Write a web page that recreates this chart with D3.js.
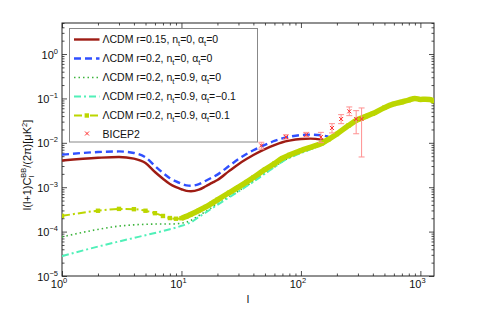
<!DOCTYPE html>
<html>
<head>
<meta charset="utf-8">
<script src="https://cdnjs.cloudflare.com/ajax/libs/d3/7.8.5/d3.min.js"></script>
<style>
	body { margin: 0; background: #fff; }
	text { font-family: "Liberation Sans", Arial, sans-serif; fill: #111; }
</style>
</head>
<body>
<div id="chart"></div>
<script>
	// multipole grid shared by all model curves
	var ells = [1,2,3,4,5,6,7,8,9,10,11,12,14,16,18,20,25,30,35,40,50,60,70,80,100,120,150,170,200,250,300,350,400,500,600,700,800,900,1000,1100,1200,1300];

	// r=0.15, nt=0 (stops near l=170)
	var redVals = [4.0e-3,4.6e-3,4.8e-3,4.4e-3,3.5e-3,2.2e-3,1.55e-3,1.18e-3,1.0e-3,9.0e-4,8.3e-4,8.1e-4,8.8e-4,1.05e-3,1.25e-3,1.45e-3,2.3e-3,3.3e-3,4.3e-3,5.3e-3,7.2e-3,8.9e-3,1.03e-2,1.12e-2,1.22e-2,1.24e-2,1.18e-2,1.12e-2,
		null,null,null,null,null,null,null,null,null,null,null,null,null,null];
	// r=0.2, nt=0
	var blueVals = [5.4e-3,6.2e-3,6.4e-3,5.9e-3,4.7e-3,3.0e-3,2.1e-3,1.6e-3,1.35e-3,1.2e-3,1.1e-3,1.08e-3,1.17e-3,1.4e-3,1.65e-3,1.92e-3,3.0e-3,4.3e-3,5.6e-3,6.8e-3,9.0e-3,1.1e-2,1.26e-2,1.37e-2,1.5e-2,1.53e-2,1.47e-2,1.38e-2,
		null,null,null,null,null,null,null,null,null,null,null,null,null,null];
	// r=0.2, nt=0.9, at=0
	var greenVals = [7.6e-5,1.12e-4,1.33e-4,1.42e-4,1.46e-4,1.48e-4,1.48e-4,1.48e-4,1.5e-4,1.55e-4,1.63e-4,1.78e-4,2.3e-4,2.85e-4,3.5e-4,4.2e-4,6.1e-4,8.2e-4,1.07e-3,1.35e-3,2.05e-3,2.85e-3,3.8e-3,4.6e-3,5.9e-3,7.1e-3,9.0e-3,1.1e-2,1.5e-2,2.35e-2,3.2e-2,3.8e-2,4.4e-2,6.1e-2,7.4e-2,8.2e-2,9.1e-2,9.9e-2,9.4e-2,9.5e-2,9.4e-2,8.6e-2];
	// r=0.2, nt=0.9, at=-0.1
	var cyanVals = [2.8e-5,4.6e-5,6.0e-5,7.2e-5,8.3e-5,9.3e-5,1.03e-4,1.13e-4,1.23e-4,1.35e-4,1.48e-4,1.62e-4,2.15e-4,2.7e-4,3.35e-4,4.0e-4,5.9e-4,8.0e-4,1.05e-3,1.33e-3,2.02e-3,2.82e-3,3.78e-3,4.58e-3,5.88e-3,7.1e-3,9.0e-3,1.1e-2,1.5e-2,2.35e-2,3.2e-2,3.8e-2,4.4e-2,6.1e-2,7.4e-2,8.2e-2,9.1e-2,9.9e-2,9.4e-2,9.5e-2,9.4e-2,8.6e-2];
	// r=0.2, nt=0.9, at=0.1
	var yellowVals = [2.26e-4,2.95e-4,3.25e-4,3.2e-4,2.95e-4,2.6e-4,2.25e-4,2.02e-4,1.95e-4,2.0e-4,2.2e-4,2.45e-4,3.0e-4,3.6e-4,4.35e-4,5.2e-4,7.5e-4,1.0e-3,1.3e-3,1.65e-3,2.5e-3,3.4e-3,4.5e-3,5.3e-3,6.7e-3,7.9e-3,9.8e-3,1.2e-2,1.58e-2,2.45e-2,3.35e-2,3.95e-2,4.55e-2,6.2e-2,7.5e-2,8.3e-2,9.2e-2,1.0e-1,9.5e-2,9.6e-2,9.5e-2,8.7e-2];

	// BICEP2 band powers
	var bicepL  = [46.6, 74.9, 111, 147, 182, 217, 254, 290, 322];
	var bicepV  = [8.7e-3, 1.35e-2, 1.52e-2, 1.35e-2, 2.16e-2, 3.44e-2, 5.12e-2, 3.44e-2, 3.44e-2];
	var bicepLo = [7.2e-3, 1.22e-2, 1.37e-2, 1.01e-2, 1.67e-2, 2.7e-2, 4.09e-2, 1.6e-2, 4.8e-3];
	var bicepHi = [1.03e-2, 1.52e-2, 1.72e-2, 1.72e-2, 2.7e-2, 4.31e-2, 6.43e-2, 5.3e-2, 6.1e-2];

	var xMajor = [1, 10, 100, 1000];
	var xExp = ["0", "1", "2", "3"];
	var yMajor = [1e-5, 1e-4, 1e-3, 1e-2, 1e-1, 1];
	var yExp = ["\u22125", "\u22124", "\u22123", "\u22122", "\u22121", "0"];

	var legendLabels = [
		{main: "\u039BCDM r=0.15, n", a: "=0, \u03B1", b: "=0"},
		{main: "\u039BCDM r=0.2, n", a: "=0, \u03B1", b: "=0"},
		{main: "\u039BCDM r=0.2, n", a: "=0.9, \u03B1", b: "=0"},
		{main: "\u039BCDM r=0.2, n", a: "=0.9, \u03B1", b: "=\u22120.1"},
		{main: "\u039BCDM r=0.2, n", a: "=0.9, \u03B1", b: "=0.1"}
	];

	var svgW = 480, svgH = 311;
	var pL = 62, pT = 23, pR = 434, pB = 276;

	var svg = d3.select("#chart").append("svg")
		.attr("width", svgW)
		.attr("height", svgH);

	var x = d3.scaleLog().domain([1, 1300]).range([pL, pR]);
	var y = d3.scaleLog().domain([1e-5, 5]).range([pB, pT]);

	svg.append("clipPath").attr("id", "plotclip")
		.append("rect")
		.attr("x", pL).attr("y", pT)
		.attr("width", pR - pL).attr("height", pB - pT);

	// minor ticks
	var xMinor = [];
	[1, 10, 100, 1000].forEach(function(d){
		for (var k = 2; k <= 9; k++) if (d * k <= 1300) xMinor.push(d * k);
	});
	var yMinor = [];
	[1e-5, 1e-4, 1e-3, 1e-2, 1e-1, 1].forEach(function(d){
		for (var k = 2; k <= 9; k++) if (d * k <= 5) yMinor.push(d * k);
	});

	var axisColor = "#222";
	function drawTicks(makeAxis, pos, vals, size){
		var g = svg.append("g").attr("transform", pos)
			.call(makeAxis().tickValues(vals).tickSize(size).tickFormat(function(){ return ""; }));
		g.select(".domain").remove();
		g.selectAll(".tick line").attr("stroke", axisColor).attr("stroke-width", 0.8);
		g.selectAll(".tick text").remove();
	}
	var sides = [
		[function(){ return d3.axisBottom(x); }, "translate(0," + pB + ")", xMajor, xMinor],
		[function(){ return d3.axisTop(x); }, "translate(0," + pT + ")", xMajor, xMinor],
		[function(){ return d3.axisLeft(y); }, "translate(" + pL + ",0)", yMajor, yMinor],
		[function(){ return d3.axisRight(y); }, "translate(" + pR + ",0)", yMajor, yMinor]
	];
	sides.forEach(function(s){
		drawTicks(s[0], s[1], s[2], -5);
		drawTicks(s[0], s[1], s[3], -2.5);
	});

	// frame
	svg.append("rect")
		.attr("x", pL).attr("y", pT)
		.attr("width", pR - pL).attr("height", pB - pT)
		.attr("fill", "none").attr("stroke", axisColor).attr("stroke-width", 1);

	// tick labels
	xMajor.forEach(function(d, i){
		var t = svg.append("text")
			.attr("x", x(d) - 3).attr("y", 288)
			.attr("text-anchor", "middle")
			.style("font-size", "11px");
		t.append("tspan").text("10");
		t.append("tspan").attr("dy", -5).style("font-size", "7.5px").text(xExp[i]);
	});
	yMajor.forEach(function(d, i){
		var t = svg.append("text")
			.attr("x", 58).attr("y", y(d) + 4.5)
			.attr("text-anchor", "end")
			.style("font-size", "11px");
		t.append("tspan").text("10");
		t.append("tspan").attr("dy", -5).style("font-size", "7.5px").text(yExp[i]);
	});

	// axis titles
	svg.append("text")
		.attr("x", 248).attr("y", 303)
		.attr("text-anchor", "middle")
		.style("font-size", "11px")
		.text("l");

	var yt = svg.append("text")
		.attr("transform", "translate(31,165) rotate(-90)")
		.attr("text-anchor", "middle")
		.style("font-size", "11px");
	yt.append("tspan").text("l(l+1)C");
	yt.append("tspan").attr("dy", 3).style("font-size", "7.5px").text("l");
	yt.append("tspan").attr("dy", -8).attr("dx", -2).style("font-size", "7.5px").text("BB");
	yt.append("tspan").attr("dy", 5).text("/(2\u03C0)[\u03BCK");
	yt.append("tspan").attr("dy", -4).style("font-size", "7.5px").text("2");
	yt.append("tspan").attr("dy", 4).text("]");

	// curves
	var plot = svg.append("g").attr("clip-path", "url(#plotclip)");

	function pts(vals){
		return ells.map(function(l, i){ return [l, vals[i]]; });
	}
	var line = d3.line()
		.defined(function(d){ return d[1] != null; })
		.x(function(d){ return x(d[0]); })
		.y(function(d){ return y(d[1]); })
		.curve(d3.curveMonotoneX);

	var styles = [
		{vals: redVals, color: "#9e1c14", w: 2.4, dash: null},
		{vals: blueVals, color: "#3050ff", w: 2.4, dash: "7,4"},
		{vals: greenVals, color: "#3cb43c", w: 1.6, dash: "1.5,3"},
		{vals: cyanVals, color: "#50f0b8", w: 2, dash: "7,3,2,3"},
		{vals: yellowVals, color: "#bcd600", w: 2, dash: "8,3,2,3"}
	];

	styles.forEach(function(s){
		plot.append("path")
			.datum(pts(s.vals))
			.attr("d", line)
			.attr("fill", "none")
			.attr("stroke", s.color)
			.attr("stroke-width", s.w)
			.attr("stroke-dasharray", s.dash);
	});

	// yellow: dense markers merge into a thick band at high l
	var yellowPts = pts(yellowVals);
	plot.append("path")
		.datum(yellowPts.filter(function(d){ return d[0] >= 10; }))
		.attr("d", line)
		.attr("fill", "none")
		.attr("stroke", "#bcd600")
		.attr("stroke-width", 5.5);
	plot.selectAll(".ysq")
		.data(yellowPts)
		.enter().append("rect")
		.attr("class", "ysq")
		.attr("x", function(d){ return x(d[0]) - 2.2; })
		.attr("y", function(d){ return y(d[1]) - 2.2; })
		.attr("width", 4.4).attr("height", 4.4)
		.attr("fill", "#bcd600");

	// BICEP2 points with error bars
	var bicep = bicepL.map(function(l, i){
		return {l: l, v: bicepV[i], lo: bicepLo[i], hi: bicepHi[i]};
	});
	var eb = plot.selectAll(".bicep")
		.data(bicep).enter().append("g").attr("class", "bicep");
	eb.append("line")
		.attr("x1", function(d){ return x(d.l); })
		.attr("x2", function(d){ return x(d.l); })
		.attr("y1", function(d){ return y(d.lo); })
		.attr("y2", function(d){ return y(d.hi); })
		.attr("stroke", "#ff9090").attr("stroke-width", 1);
	["lo", "hi"].forEach(function(k){
		eb.append("line")
			.attr("x1", function(d){ return x(d.l) - 3; })
			.attr("x2", function(d){ return x(d.l) + 3; })
			.attr("y1", function(d){ return y(d[k]); })
			.attr("y2", function(d){ return y(d[k]); })
			.attr("stroke", "#ff9090").attr("stroke-width", 1);
	});
	eb.append("path")
		.attr("d", function(d){
			var cx = x(d.l), cy = y(d.v);
			return "M" + (cx - 2) + "," + (cy - 2) + "L" + (cx + 2) + "," + (cy + 2) +
				"M" + (cx - 2) + "," + (cy + 2) + "L" + (cx + 2) + "," + (cy - 2);
		})
		.attr("stroke", "#ff3030").attr("stroke-width", 1);

	// legend
	var lg = svg.append("g");
	lg.append("rect")
		.attr("x", 69.5).attr("y", 28.5)
		.attr("width", 188).attr("height", 113.5)
		.attr("fill", "#fff").attr("stroke", "#888").attr("stroke-width", 1);

	var rowY = function(i){ return 39.5 + i * 19; };
	styles.forEach(function(s, i){
		lg.append("line")
			.attr("x1", 74).attr("x2", 99.5)
			.attr("y1", rowY(i)).attr("y2", rowY(i))
			.attr("stroke", s.color)
			.attr("stroke-width", s.w)
			.attr("stroke-dasharray", s.dash);
		var t = lg.append("text")
			.attr("x", 102.5).attr("y", rowY(i) + 3.5)
			.style("font-size", "10.5px");
		t.append("tspan").text(legendLabels[i].main);
		t.append("tspan").attr("dy", 3).style("font-size", "7.5px").text("t");
		t.append("tspan").attr("dy", -3).text(legendLabels[i].a);
		t.append("tspan").attr("dy", 3).style("font-size", "7.5px").text("t");
		t.append("tspan").attr("dy", -3).text(legendLabels[i].b);
	});
	lg.append("rect")
		.attr("x", 84.6).attr("y", rowY(4) - 2.2)
		.attr("width", 4.4).attr("height", 4.4)
		.attr("fill", "#bcd600");
	var by = rowY(5) - 1;
	lg.append("path")
		.attr("d", "M85,"+(by-2)+"L89,"+(by+2)+"M85,"+(by+2)+"L89,"+(by-2))
		.attr("stroke", "#ff3030").attr("stroke-width", 1);
	lg.append("text")
		.attr("x", 102.5).attr("y", by + 4)
		.style("font-size", "10.5px")
		.text("BICEP2");
</script>
</body>
</html>
